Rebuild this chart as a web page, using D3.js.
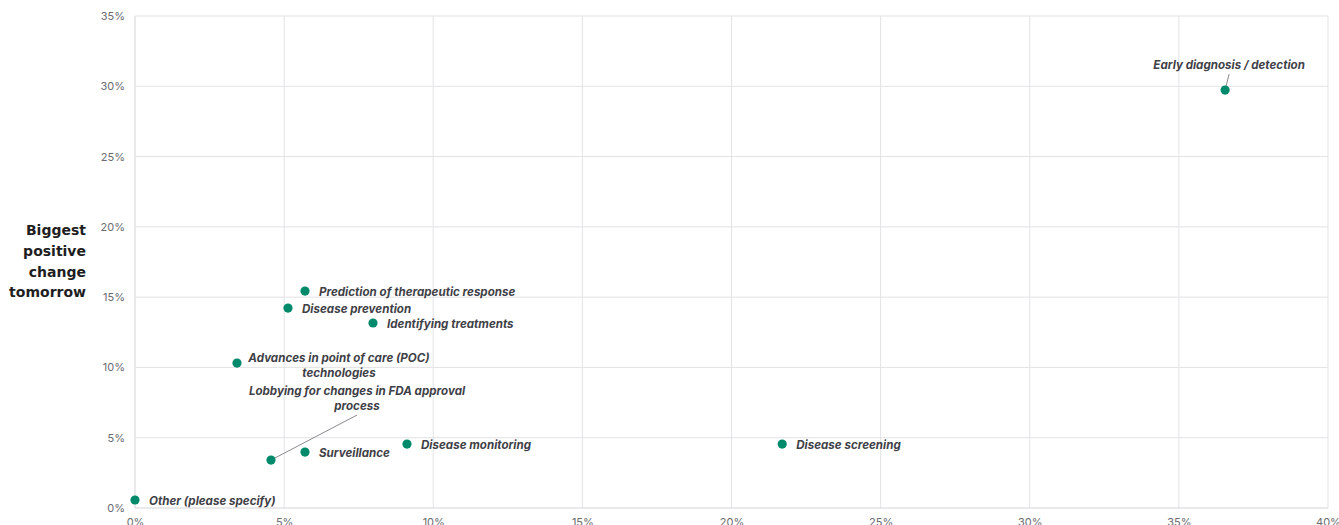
<!DOCTYPE html>
<html><head><meta charset="utf-8">
<script src="https://cdn.jsdelivr.net/npm/d3@7"></script>
<style>
html,body{margin:0;padding:0;background:#fff;overflow:hidden}
svg{display:block}
</style></head>
<body>
<svg id="chart" width="1339" height="525"></svg>
<script>
// ---- data ----
const categories = [
  "Early diagnosis / detection",
  "Prediction of therapeutic response",
  "Disease prevention",
  "Identifying treatments",
  "Advances in point of care (POC) technologies",
  "Lobbying for changes in FDA approval process",
  "Surveillance",
  "Disease monitoring",
  "Disease screening",
  "Other (please specify)"
];
const xValues = [36.55, 5.70, 5.13, 7.98, 3.42, 4.56, 5.70, 9.12, 21.70, 0.0];
const yValues = [29.73, 15.43, 14.22, 13.16, 10.31, 3.41, 3.98, 4.55, 4.55, 0.57];
const xTicks = [0, 5, 10, 15, 20, 25, 30, 35, 40];
const yTicks = [0, 5, 10, 15, 20, 25, 30, 35];
const yTitle = ["Biggest", "positive", "change", "tomorrow"];

// ---- label layout (style, not data) ----
const labelLayout = {
  "Early diagnosis / detection": {lines:["Early diagnosis / detection"], dx:4, dy:-21, leader:true},
  "Advances in point of care (POC) technologies": {lines:["Advances in point of care (POC)","technologies"], dx:102, dy:-1},
  "Lobbying for changes in FDA approval process": {lines:["Lobbying for changes in FDA approval","process"], dx:86, dy:-65, leader:true}
};

const svg = d3.select("#chart");
const x = d3.scaleLinear().domain([0, 40]).range([135, 1328]);
const y = d3.scaleLinear().domain([0, 35]).range([508, 16]);

// gridlines
const g = svg.append("g");
g.selectAll("line.v").data(xTicks).join("line")
  .attr("x1", d => x(d)).attr("x2", d => x(d)).attr("y1", y(35)).attr("y2", y(0))
  .attr("stroke", d => d === 0 ? "#d4d4da" : "#e3e3e6").attr("stroke-width", 1);
g.selectAll("line.h").data(yTicks).join("line")
  .attr("x1", x(0)).attr("x2", x(40)).attr("y1", d => y(d)).attr("y2", d => y(d))
  .attr("stroke", d => d === 0 ? "#d4d4da" : "#e3e3e6").attr("stroke-width", 1);

// axes (labels only)
const yAxis = d3.axisLeft(y).tickValues(yTicks).tickFormat(d => d + "%").tickSize(0).tickPadding(10);
svg.append("g").attr("transform", `translate(${x(0)},0)`).call(yAxis)
  .call(s => s.select(".domain").remove())
  .selectAll("text").attr("fill", "#6b6b70").style("font-family", "Inter, 'Noto Sans', sans-serif").style("font-size", "11px");
const xAxis = d3.axisBottom(x).tickValues(xTicks).tickFormat(d => d + "%").tickSize(0).tickPadding(10);
svg.append("g").attr("transform", `translate(0,${y(0)})`).call(xAxis)
  .call(s => s.select(".domain").remove())
  .selectAll("text").attr("fill", "#6b6b70").style("font-family", "Inter, 'Noto Sans', sans-serif").style("font-size", "11px");

// y title
svg.append("text").attr("text-anchor", "end")
  .style("font-family", "'DejaVu Sans', sans-serif").style("font-weight", "700").style("font-size", "14px")
  .attr("fill", "#1e1e22")
  .selectAll("tspan").data(yTitle).join("tspan")
  .attr("x", 86).attr("y", (d, i) => 235 + i * 20.8).text(d => d);

// points and labels
const pts = categories.map((c, i) => ({c, xv: xValues[i], yv: yValues[i]}));
const lab = svg.append("g")
  .style("font-family", "Inter, 'Noto Sans', sans-serif").style("font-weight", "700")
  .style("font-style", "italic").style("font-size", "11.6px").attr("fill", "#3f3f48");

pts.forEach(p => {
  const px = x(p.xv), py = y(p.yv);
  const L = labelLayout[p.c];
  if (!L) {
    lab.append("text").attr("x", px + 14).attr("y", py + 5).text(p.c);
  } else {
    const cx = px + L.dx, cy = py + L.dy;
    const t = lab.append("text").attr("text-anchor", "middle");
    L.lines.forEach((ln, i) => t.append("tspan").attr("x", cx).attr("y", cy + i * 15).text(ln));
    if (L.leader) {
      const ly = cy + (L.lines.length - 1) * 15 + 5;
      svg.append("line").attr("x1", cx).attr("y1", ly).attr("x2", px).attr("y2", py)
        .attr("stroke", "#8a8a90").attr("stroke-width", 1);
    }
  }
});

svg.append("g").selectAll("circle").data(pts).join("circle")
  .attr("cx", d => x(d.xv)).attr("cy", d => y(d.yv)).attr("r", 4.6)
  .attr("fill", "#008a6c");
</script>
</body></html>
